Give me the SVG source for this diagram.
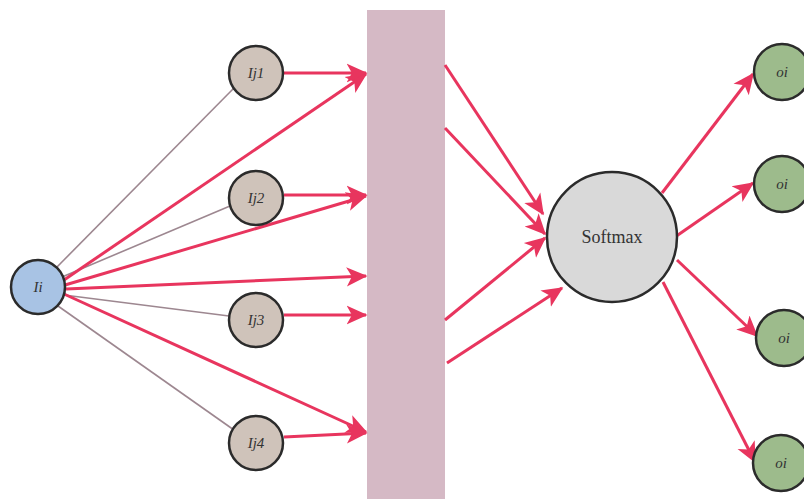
<svg xmlns="http://www.w3.org/2000/svg" width="804" height="499" viewBox="0 0 804 499">
<style>
.thin{stroke:#9d8790;stroke-width:1.6;fill:none}
.red{stroke:#e8355e;stroke-width:3;fill:none;marker-end:url(#ah)}
.node{stroke:#2b2b2b;stroke-width:2.5}
.lbl{font-family:"Liberation Serif",serif;font-style:italic;font-size:15px;fill:#333;text-anchor:middle}
</style>
<defs>
<marker id="ah" markerWidth="8" markerHeight="8" refX="6.5" refY="4" orient="auto" markerUnits="strokeWidth">
<path d="M0,0.8 L7,4 L0,7.2 L1.8,4 Z" fill="#e8355e"/>
</marker>
</defs>
<rect x="367" y="10" width="78" height="489" fill="#d5b9c5"/>
<g id="connectors">
<line class="thin" x1="56" y1="268" x2="234" y2="88"/>
<line class="thin" x1="62" y1="277" x2="230" y2="206"/>
<line class="thin" x1="64" y1="295" x2="229" y2="316"/>
<line class="thin" x1="58" y1="306" x2="234" y2="430"/>
<line class="red" x1="64" y1="280" x2="366" y2="74"/>
<line class="red" x1="65" y1="285" x2="366" y2="196"/>
<line class="red" x1="66" y1="289" x2="366" y2="276"/>
<line class="red" x1="64" y1="294" x2="366" y2="432"/>
<line class="red" x1="284" y1="73" x2="366" y2="73"/>
<line class="red" x1="284" y1="195" x2="366" y2="195"/>
<line class="red" x1="284" y1="315" x2="366" y2="315"/>
<line class="red" x1="284" y1="437" x2="366" y2="433"/>
<line class="red" x1="445" y1="65" x2="543" y2="214"/>
<line class="red" x1="445" y1="128" x2="545" y2="234"/>
<line class="red" x1="445" y1="320" x2="545" y2="238"/>
<line class="red" x1="447" y1="363" x2="562" y2="288"/>
<line class="red" x1="662" y1="193" x2="753" y2="74"/>
<line class="red" x1="675" y1="237" x2="753" y2="183"/>
<line class="red" x1="677" y1="260" x2="757" y2="336"/>
<line class="red" x1="663" y1="282" x2="755" y2="462"/>
</g>
<g id="Ii"><circle class="node" cx="38" cy="287" r="27" fill="#a8c3e4"/><text class="lbl" x="38" y="292">Ii</text></g>
<g id="Ij1"><circle class="node" cx="256" cy="73" r="27" fill="#cfc3ba"/><text class="lbl" x="256" y="78">Ij1</text></g>
<g id="Ij2"><circle class="node" cx="256" cy="198" r="27" fill="#cfc3ba"/><text class="lbl" x="256" y="203">Ij2</text></g>
<g id="Ij3"><circle class="node" cx="256" cy="320" r="27" fill="#cfc3ba"/><text class="lbl" x="256" y="325">Ij3</text></g>
<g id="Ij4"><circle class="node" cx="256" cy="443" r="27" fill="#cfc3ba"/><text class="lbl" x="256" y="448">Ij4</text></g>
<g id="Softmax"><circle class="node" cx="612" cy="237" r="65" fill="#d9d9d9" stroke-width="3"/><text x="612" y="243" font-family="Liberation Serif,serif" font-size="18" fill="#333" text-anchor="middle">Softmax</text></g>
<g id="oi1"><circle class="node" cx="782" cy="72" r="28" fill="#9dbb8c"/><text class="lbl" x="782" y="77">oi</text></g>
<g id="oi2"><circle class="node" cx="782" cy="184" r="28" fill="#9dbb8c"/><text class="lbl" x="782" y="189">oi</text></g>
<g id="oi3"><circle class="node" cx="784" cy="338" r="28" fill="#9dbb8c"/><text class="lbl" x="784" y="343">oi</text></g>
<g id="oi4"><circle class="node" cx="781" cy="463" r="28" fill="#9dbb8c"/><text class="lbl" x="781" y="468">oi</text></g>
</svg>
